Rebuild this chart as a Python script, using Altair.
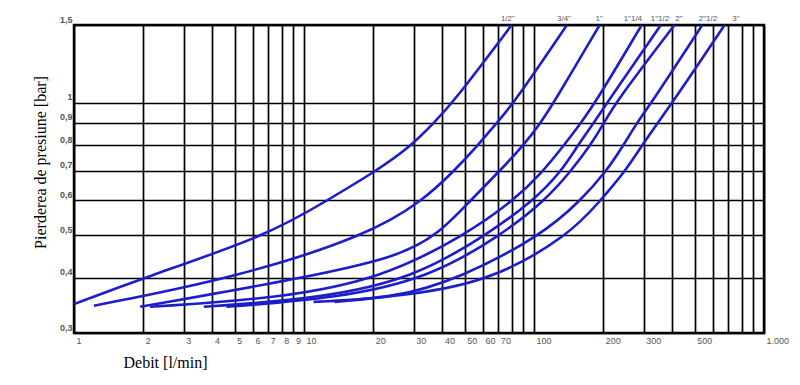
import altair as alt
import pandas as pd

# Curve readings (flow l/min, pressure loss bar)
s_half_x = [1, 2, 7, 12.6, 20.7, 29.5, 36.7, 44.5, 80]
s_half_y = [0.349, 0.4, 0.5, 0.6, 0.7, 0.8, 0.9, 1.0, 1.5]
s_34_x = [1.22, 5, 19, 33, 45, 57, 69, 82, 139]
s_34_y = [0.346, 0.4, 0.5, 0.6, 0.7, 0.8, 0.9, 1.0, 1.5]
s_1_x = [1.94, 10, 25.4, 38, 53, 71, 90, 107, 122, 193]
s_1_y = [0.344, 0.4, 0.446, 0.5, 0.6, 0.7, 0.8, 0.9, 1.0, 1.5]
s_114_x = [2.14, 8, 22, 50, 82, 110, 135, 160, 185, 294]
s_114_y = [0.344, 0.36, 0.4, 0.5, 0.6, 0.7, 0.8, 0.9, 1.0, 1.5]
s_112_x = [3.67, 12, 30, 62, 100, 132, 155, 182, 208, 356]
s_112_y = [0.344, 0.36, 0.4, 0.5, 0.6, 0.7, 0.8, 0.9, 1.0, 1.5]
s_2_x = [4.6, 14, 35, 72, 112, 145, 176, 202, 226, 408]
s_2_y = [0.344, 0.36, 0.4, 0.5, 0.6, 0.7, 0.8, 0.9, 1.0, 1.5]
s_212_x = [11, 25, 48, 108, 160, 207, 245, 280, 325, 539]
s_212_y = [0.353, 0.36, 0.4, 0.5, 0.6, 0.7, 0.8, 0.9, 1.0, 1.5]
s_3_x = [13.6, 35, 68, 142, 195, 250, 295, 345, 400, 674]
s_3_y = [0.353, 0.37, 0.4, 0.5, 0.6, 0.7, 0.8, 0.9, 1.0, 1.5]

series_names = ['1/2"', '3/4"', '1"', '1"1/4', '1"1/2', '2"', '2"1/2', '3"']
series_x = [s_half_x, s_34_x, s_1_x, s_114_x, s_112_x, s_2_x, s_212_x, s_3_x]
series_y = [s_half_y, s_34_y, s_1_y, s_114_y, s_112_y, s_2_y, s_212_y, s_3_y]

# Curve labels at the top edge (flow value where each label sits)
label_x = [77, 135, 192, 269, 353, 427, 571, 755]
label_y = [1.5] * 8

x_grid = [1, 2, 3, 4, 5, 6, 7, 8, 9, 10, 20, 30, 40, 50, 60, 70, 80, 90,
          100, 200, 300, 400, 500, 600, 700, 800, 900, 1000]
x_labels = [1, 2, 3, 4, 5, 6, 7, 8, 9, 10, 20, 30, 40, 50, 60, 70, 100, 200, 300, 500]
y_grid = [0.3, 0.4, 0.5, 0.6, 0.7, 0.8, 0.9, 1.0, 1.5]

rows = []
for name, xs, ys in zip(series_names, series_x, series_y):
    for xv, yv in zip(xs, ys):
        rows.append({"series": name, "x": xv, "y": yv})
df = pd.DataFrame(rows)
df_lab = pd.DataFrame({"x": label_x, "y": label_y, "t": series_names})

xlab_list = ",".join(str(v) for v in x_labels)
x_label_expr = ("datum.value == 1000 ? '1.000' : (indexof([" + xlab_list +
                "], datum.value) >= 0 ? toString(datum.value) : '')")
y_label_expr = "datum.value == 1 ? '1' : replace(toString(datum.value), '.', ',')"

xscale = alt.Scale(type="log", domain=[1, 1000], nice=False)
yscale = alt.Scale(type="log", domain=[0.3, 1.5], nice=False)

xaxis = alt.Axis(values=x_grid, grid=True, gridColor="black", gridWidth=1.7, gridOpacity=1,
                 ticks=False, domain=False, labelExpr=x_label_expr, labelAlign="left",
                 labelOffset=2, labelPadding=3, labelFontSize=9, labelColor="#555",
                 labelFont="Liberation Sans", labelOverlap=False, labelFlush=False,
                 labelBound=False,
                 title="Debit [l/min]", titleFont="Liberation Serif", titleFontSize=16,
                 titleFontWeight="normal", titleColor="black", titleX=49, titleY=29,
                 titleAlign="left", titleBaseline="middle")
yaxis = alt.Axis(values=y_grid, grid=True, gridColor="black", gridWidth=1.7, gridOpacity=1,
                 ticks=False, domain=False, labelExpr=y_label_expr, labelBaseline="alphabetic",
                 labelOffset=-3, labelPadding=2, labelFontSize=9, labelColor="#555",
                 labelFont="Liberation Sans", labelFontWeight="bold", labelOverlap=False,
                 labelFlush=False, labelBound=False,
                 title="Pierderea de presiune [bar]", titleFont="Liberation Serif",
                 titleFontSize=16, titleFontWeight="normal", titleColor="black",
                 titleX=-34, titleY=137, titleAngle=-90, titleAlign="center",
                 titleBaseline="middle")

lines = alt.Chart(df).mark_line(strokeWidth=2.6, interpolate="basis", clip=True).encode(
    x=alt.X("x:Q", scale=xscale, axis=xaxis),
    y=alt.Y("y:Q", scale=yscale, axis=yaxis),
    detail="series:N",
    color=alt.value("#1e1ec8"),
)

labels = alt.Chart(df_lab).mark_text(dy=-6, fontSize=8, color="#555",
                                     font="Liberation Sans").encode(
    x=alt.X("x:Q", scale=xscale),
    y=alt.Y("y:Q", scale=yscale),
    text="t:N",
)

chart = alt.layer(lines, labels).properties(
    width=690, height=308,
    autosize=alt.AutoSizeParams(type="none"),
    padding={"left": 66, "top": 17, "right": 25, "bottom": 44},
    background="white",
).configure_view(stroke="black", strokeWidth=2.5)

chart.save("out.html", embed_options={"renderer": "svg", "actions": False})
